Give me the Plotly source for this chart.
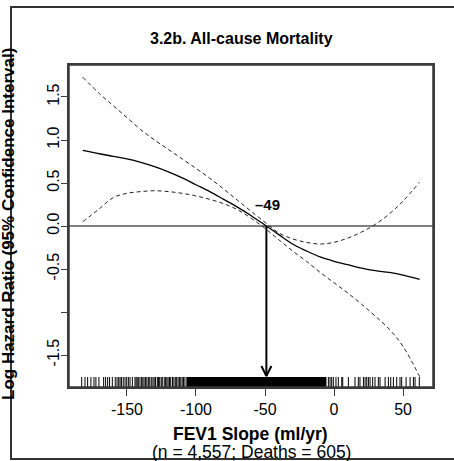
import plotly.graph_objects as go

# ---- data ----
x_grid = [-182, -170, -160, -150, -140, -130, -120, -110, -100, -90, -80, -70, -60,
          -49, -40, -30, -20, -10, 0, 10, 20, 30, 40, 50, 62]
fit = [0.88, 0.84, 0.81, 0.78, 0.74, 0.69, 0.63, 0.56, 0.48, 0.40, 0.31, 0.22, 0.12,
       0.0, -0.10, -0.21, -0.29, -0.36, -0.41, -0.45, -0.49, -0.52, -0.54, -0.57, -0.62]
upper = [1.73, 1.54, 1.40, 1.26, 1.12, 1.00, 0.89, 0.78, 0.67, 0.555, 0.43, 0.30, 0.17,
         0.03, -0.08, -0.15, -0.19, -0.21, -0.19, -0.14, -0.07, 0.02, 0.14, 0.29, 0.51]
lower = [0.05, 0.20, 0.33, 0.38, 0.40, 0.41, 0.40, 0.38, 0.35, 0.31, 0.26, 0.19, 0.09,
         -0.04, -0.16, -0.29, -0.41, -0.54, -0.66, -0.78, -0.91, -1.05, -1.20, -1.40, -1.75]

rug_left = [-182.8, -180.4, -178.5, -176.1, -173.9, -172.5, -170.3, -166.9, -165.5, -164.0,
            -162.6, -160.6, -158.5, -157.2, -156.0, -155.0, -154.0, -152.7, -151.4, -150.2,
            -149.0, -147.8, -146.1, -144.2, -143.4, -142.6, -141.8, -140.6, -139.4, -138.5,
            -137.6, -136.5, -135.6, -134.5, -133.5, -132.4, -131.2, -130.3, -129.3, -128.0,
            -127.2, -126.3, -125.2, -124.4, -123.0, -122.0, -121.1, -120.2, -119.2, -118.3,
            -117.0, -116.0, -115.0, -114.0, -113.0, -112.0, -111.0, -110.0, -109.0, -108.0]
rug_right = [-4.1, -2.9, -1.7, -0.5, 1.4, 3.1, 5.6, 6.3, 10.4, 15.2, 17.6, 18.8, 21.3, 22.5,
             23.7, 24.9, 26.1, 28.0, 29.7, 32.1, 33.3, 37.0, 39.4, 41.1, 43.0, 45.4, 47.8,
             49.0, 52.2, 55.1, 57.5, 58.7, 61.8]
rug_dense = [-107.0, -5.5]   # range where the rug is solid black

cut_point = -49
cut_label = "\u201349"

x_tickvals = [-150, -100, -50, 0, 50]
x_ticktext = ["-150", "-100", "-50", "0", "50"]
y_tickvals = [1.5, 1.0, 0.5, 0.0, -0.5, -1.0, -1.5]
y_ticktext = ["1.5", "1.0", "0.5", "0.0", "-0.5", "", "-1.5"]

title = "3.2b. All-cause Mortality"
x_title = "FEV1 Slope (ml/yr)"
x_subtitle = "(n = 4,557; Deaths = 605)"
y_title = "Log Hazard Ratio (95% Confidence Interval)"

# ---- layout geometry ----
W, H = 454, 461
ML, MR, MT, MB = 69, 21, 65, 74
XR = [-192, 71.7]
YR = [-1.872, 1.872]
pw, ph = W - ML - MR, H - MT - MB
px_x = (XR[1] - XR[0]) / pw   # data units per pixel
px_y = (YR[1] - YR[0]) / ph

FONT = "Liberation Sans, Arial, sans-serif"
BOX = "#3a3a3a"

fig = go.Figure()

# zero reference line
fig.add_trace(go.Scatter(x=XR, y=[0, 0], mode="lines",
                         line=dict(color="black", width=1), hoverinfo="skip"))

# confidence bands
for ser in (upper, lower):
    fig.add_trace(go.Scatter(x=x_grid, y=ser, mode="lines",
                             line=dict(color="#222", width=1, dash="4px,3px", shape="spline"),
                             hoverinfo="skip"))
fig.add_trace(go.Scatter(x=x_grid, y=fit, mode="lines",
                         line=dict(color="black", width=1.3, shape="spline"), hoverinfo="skip"))

# rug
rug_bot = YR[0]
rug_top = YR[0] + 10 * px_y
rx, ry = [], []
for v in rug_left + rug_right:
    rx += [v, v, None]
    ry += [rug_bot, rug_top, None]
fig.add_trace(go.Scatter(x=rx, y=ry, mode="lines",
                         line=dict(color="black", width=1), hoverinfo="skip"))
fig.add_trace(go.Scatter(x=rug_dense, y=[(rug_bot + rug_top) / 2] * 2, mode="lines",
                         line=dict(color="black", width=10), hoverinfo="skip"))

# arrow at cut point
tip = rug_top + 1 * px_y
fig.add_trace(go.Scatter(x=[cut_point, cut_point], y=[0, tip], mode="lines",
                         line=dict(color="black", width=2), hoverinfo="skip"))
dx, dy = 5 * px_x, 10 * px_y
fig.add_trace(go.Scatter(x=[cut_point - dx, cut_point, cut_point + dx],
                         y=[tip + dy, tip, tip + dy], mode="lines",
                         line=dict(color="black", width=2), hoverinfo="skip"))

fig.add_annotation(x=cut_point + 1, y=0.25, text="<b>" + cut_label + "</b>", showarrow=False,
                   font=dict(family=FONT, size=15, color="black"),
                   xanchor="center", yanchor="middle")

def pxx(p):
    return (p - ML) / pw

def pxy(p):
    return (MT + ph - p) / ph

fig.add_annotation(xref="paper", yref="paper", x=pxx(241), y=pxy(39), text="<b>" + title + "</b>",
                   showarrow=False, font=dict(family=FONT, size=16, color="black"),
                   xanchor="center", yanchor="middle")
fig.add_annotation(xref="paper", yref="paper", x=pxx(250), y=pxy(434), text="<b>" + x_title + "</b>",
                   showarrow=False, font=dict(family=FONT, size=17.5, color="black"),
                   xanchor="center", yanchor="middle")
fig.add_annotation(xref="paper", yref="paper", x=pxx(251), y=pxy(452), text=x_subtitle,
                   showarrow=False, font=dict(family=FONT, size=17.5, color="black"),
                   xanchor="center", yanchor="middle")
fig.add_annotation(xref="paper", yref="paper", x=pxx(8), y=pxy(224), text="<b>" + y_title + "</b>",
                   showarrow=False, textangle=-90, font=dict(family=FONT, size=17, color="black"),
                   xanchor="center", yanchor="middle")

# outer frame
fig.add_shape(type="rect", xref="paper", yref="paper",
              x0=pxx(11), x1=pxx(475), y0=pxy(459), y1=pxy(7),
              line=dict(color="#333", width=2), layer="below")
# plot box
fig.add_shape(type="rect", xref="paper", yref="paper", x0=0, x1=1, y0=0, y1=1,
              line=dict(color=BOX, width=1.5), layer="above")

fig.update_layout(
    width=W, height=H,
    margin=dict(l=ML, r=MR, t=MT, b=MB),
    paper_bgcolor="white", plot_bgcolor="white",
    showlegend=False,
    font=dict(family=FONT, size=16, color="black"),
    xaxis=dict(range=XR, showgrid=False, zeroline=False, showline=True, mirror=True,
               linecolor=BOX, linewidth=1.5, ticks="outside", ticklen=7, tickwidth=1,
               tickcolor=BOX, tickvals=x_tickvals, ticktext=x_ticktext,
               tickfont=dict(family=FONT, size=16, color="black")),
    yaxis=dict(range=YR, showgrid=False, zeroline=False, showline=True, mirror=True,
               linecolor=BOX, linewidth=1.5, ticks="outside", ticklen=6, tickwidth=1,
               tickcolor=BOX, tickvals=y_tickvals, ticktext=y_ticktext, tickangle=-90,
               ticklabelstandoff=-4,
               tickfont=dict(family=FONT, size=16, color="black")),
)

fig.write_html("out.html")
